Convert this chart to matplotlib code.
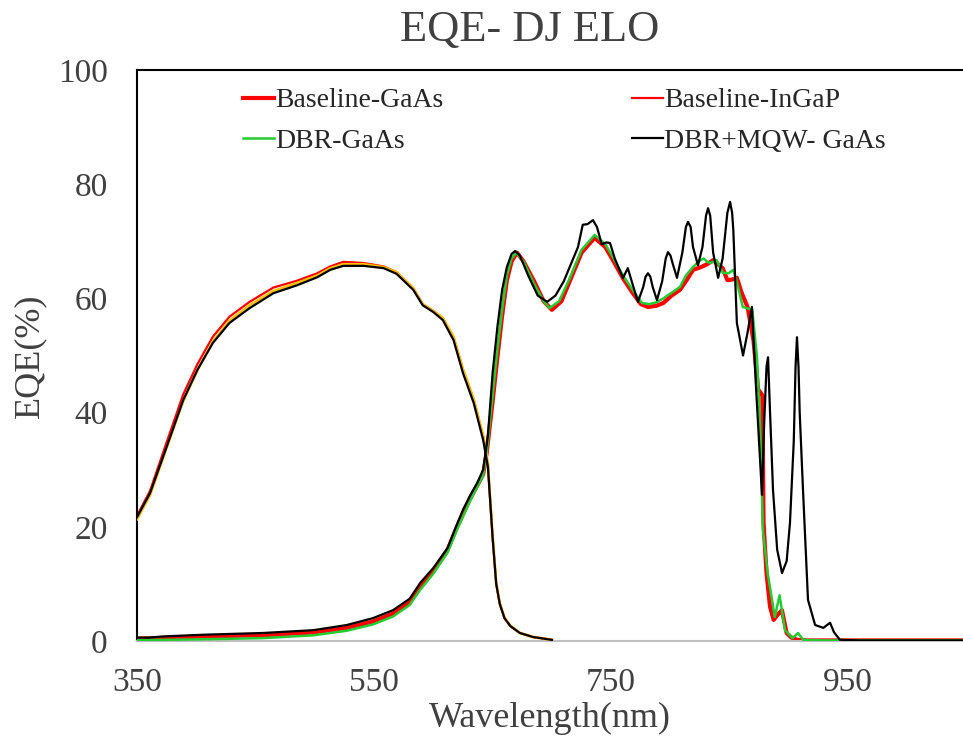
import matplotlib
matplotlib.use("Agg")
import matplotlib.pyplot as plt

# ---------------- data ----------------
wl_ingap = [350, 361, 375, 389, 401, 414, 428, 445, 465, 485, 502, 513, 524, 541, 558,
            569, 583, 591, 600, 608, 617, 625, 634, 642, 646, 650, 653, 656, 660, 665,
            673, 684, 700]
baseline_ingap = [21.9, 26.3, 34.8, 43.2, 48.5, 53.3, 56.8, 59.4, 61.9, 63.1, 64.4, 65.6, 66.4,
                  66.2, 65.6, 64.6, 61.8, 59.0, 57.8, 56.5, 53.2, 47.5, 42.3, 35.8, 30.8, 18.0,
                  10.0, 6.5, 4.0, 2.6, 1.4, 0.7, 0.2]
dbr_ingap = [21.3, 25.5, 33.8, 42.0, 47.4, 52.5, 56.1, 58.8, 61.3, 62.7, 64.0, 65.3, 66.0,
             66.0, 65.5, 64.6, 61.8, 59.0, 57.8, 56.6, 53.3, 47.6, 42.4, 36.0, 31.2, 18.5,
             10.3, 6.7, 4.1, 2.7, 1.4, 0.7, 0.2]
mqw_ingap = [21.7, 25.9, 34.0, 42.2, 47.5, 52.2, 55.7, 58.3, 60.9, 62.3, 63.7, 65.0, 65.7,
             65.7, 65.3, 64.3, 61.5, 58.8, 57.6, 56.2, 52.7, 46.9, 41.7, 35.2, 30.5, 18.0,
             10.0, 6.5, 4.0, 2.6, 1.4, 0.7, 0.2]

wl_base_gaas = [350, 372, 406, 456, 499, 527, 549, 566, 580, 589, 600, 612, 620, 631, 637, 642,
                645, 650, 654, 658, 662, 666, 670.5, 676, 685, 693, 700, 708, 716, 725, 736,
                745, 752, 760, 768, 775, 781, 788, 794, 801, 808, 813, 819, 826, 831, 836, 840,
                844, 848, 852, 856, 860, 865, 870, 874, 876, 877.5, 878.5, 881, 884, 887, 890,
                894, 898, 902, 907, 915, 930, 950, 1000, 1047]
baseline_gaas = [0.4, 0.5, 0.8, 1.0, 1.5, 2.3, 3.4, 4.8, 6.8, 9.5, 12.3, 16.0, 20.0, 25.0, 27.2,
                 29.2, 33, 42, 49.7, 57, 63.2, 66.5, 68, 66.5, 63, 59.5, 58, 59.5, 63.5, 68, 70.6,
                 69, 66.5, 63.5, 61, 59, 58.5, 58.7, 59.2, 60.5, 61.5, 63, 65, 65.5, 66, 66.7, 66,
                 65.3, 63.2, 63.3, 63.6, 61, 58.5, 52.7, 44, 43.5, 43, 20.7, 11.9, 6, 3.7, 4.5,
                 5.4, 1.4, 0.6, 0.2, 0.1, 0.1, 0.1, 0.1, 0.1]

wl_dbr_gaas = [350, 372, 406, 456, 499, 527, 549, 566, 580, 589, 600, 612, 620, 631, 637, 642,
               645, 650, 654, 658, 662, 666, 670, 676, 685, 693, 698, 706, 715, 725, 736, 745,
               752, 760, 768, 776, 782, 788, 794, 801, 808, 813, 819, 824, 828, 831, 834, 839,
               844, 849, 853, 857, 861, 869, 873, 875.5, 878, 882, 888, 892, 896.6, 903, 907.6,
               912, 930, 1047]
dbr_gaas = [0.2, 0.2, 0.3, 0.5, 1.0, 1.8, 2.9, 4.3, 6.3, 9.0, 11.8, 15.5, 19.5, 24.5, 27, 29,
            33, 43, 51, 58, 64, 67, 68, 66.5, 62.5, 59.5, 58.3, 59.5, 63.5, 68.5, 71.1, 69.5, 67,
            64, 61.5, 59.2, 59, 59.3, 60, 61, 62, 64, 65.5, 66.5, 67, 66.4, 66.2, 66.7, 64.5,
            64.4, 65, 62, 58.5, 58, 49.7, 38, 19.4, 11.9, 4.2, 8, 1.9, 0.5, 1.4, 0.2, 0.1, 0.1]

wl_mqw_gaas = [350, 360, 372, 406, 456, 499, 527, 549, 566, 580, 589, 600, 612, 620, 625, 631,
               637, 642, 646, 650, 654, 658, 662, 666, 669, 673, 680, 688, 696, 703, 710, 716,
               722, 726, 730, 734.6, 738, 742, 746, 749, 753, 757, 760, 764, 768, 772.6, 777,
               779, 781, 783, 785, 788.6, 793, 796, 797.9, 800, 802, 805.5, 810, 813, 814.8, 817,
               819, 823.2, 827, 830, 831.7, 833.5, 836, 840.2, 844, 848, 850.3, 852, 853, 856,
               861.2, 865, 868.7, 872, 875.5, 877.2, 879, 881, 882.3, 884, 886.5, 890, 894.1, 898,
               900.8, 904, 905.5, 906.7, 908, 909, 911.8, 916, 922, 929, 934.6, 938, 943, 960,
               1047]
mqw_gaas = [0.6, 0.6, 0.8, 1.1, 1.4, 1.9, 2.8, 4.0, 5.4, 7.4, 10.2, 12.8, 16.3, 20.5, 23, 25.5,
            27.7, 30, 36, 47, 55, 61.5, 65.5, 67.8, 68.3, 67.5, 64, 60.5, 59.4, 60.5, 63, 66, 69,
            72.9, 73, 73.7, 72.5, 69.5, 69.8, 69.7, 67, 65, 63.6, 65.3, 62.5, 59.4, 62,
            63.8, 64.4, 63.8, 62, 59.7, 63, 67, 68.1, 67.5, 66, 63.6, 68, 72.5, 73.4, 72.5,
            69, 65.8, 69, 74.5, 75.8, 74.5, 68, 63.6, 67, 75, 76.9, 75, 72, 55.7,
            50, 54, 58.5, 45, 32, 25.6, 38, 48, 49.7, 40, 26.4, 16, 11.9, 14,
            20.7, 35, 48, 53.2, 48, 40, 26.4, 7.2, 2.8, 2.3, 3.2, 1.5, 0.2, 0.1,
            0.1]

xticks = [350, 550, 750, 950]
yticks = [0, 20, 40, 60, 80, 100]

# ---------------- figure ----------------
W, H = 963, 743
fig = plt.figure(figsize=(W / 100, H / 100), dpi=100)
left_px, right_px, top_px, bot_px = 137, 963, 70, 641
ax = fig.add_axes([left_px / W, 1 - bot_px / H, (right_px - left_px) / W, (bot_px - top_px) / H])

serif = ["Liberation Serif", "DejaVu Serif"]
gray = "#404040"

h1, = ax.plot(wl_base_gaas, baseline_gaas, color="#FF0000", lw=3.0, label="Baseline-GaAs", zorder=2)
h2, = ax.plot(wl_ingap, baseline_ingap, color="#FF0000", lw=1.6, label="Baseline-InGaP", zorder=2)
h3, = ax.plot(wl_dbr_gaas, dbr_gaas, color="#22CC33", lw=1.8, label="DBR-GaAs", zorder=3)
ax.plot(wl_ingap, dbr_ingap, color="#FFC000", lw=1.8, zorder=3)
h4, = ax.plot(wl_mqw_gaas, mqw_gaas, color="#000000", lw=1.6, label="DBR+MQW- GaAs", zorder=4)
ax.plot(wl_ingap, mqw_ingap, color="#000000", lw=1.6, zorder=4)

ax.set_xlim(350, 350 + (right_px - left_px) / 1.1855)
ax.set_ylim(0, 100)
ax.set_xticks(xticks)
ax.set_yticks(yticks)
ax.tick_params(length=0, labelsize=24, colors=gray)
ax.tick_params(axis="y", pad=21)
ax.tick_params(axis="x", pad=19)
for lab in ax.get_xticklabels() + ax.get_yticklabels():
    lab.set_fontfamily(serif)

ax.spines["right"].set_visible(False)
ax.spines["left"].set_color("black")
ax.spines["left"].set_linewidth(1.5)
ax.spines["top"].set_color("black")
ax.spines["top"].set_linewidth(1.5)
ax.spines["bottom"].set_color("#BFBFBF")
ax.spines["bottom"].set_linewidth(1.5)

ax.set_xlabel("Wavelength(nm)", fontsize=26, color=gray, family=serif)
ax.set_ylabel("EQE(%)", fontsize=26, color=gray, family=serif)
ax.xaxis.set_label_coords((550 - left_px) / (right_px - left_px), (bot_px - 702) / (bot_px - top_px))
ax.yaxis.set_label_coords((46 - left_px) / (right_px - left_px), 0.5)
fig.text(530 / W, 1 - 30 / H, "EQE- DJ ELO", fontsize=32, color=gray, family=serif,
         ha="center", va="center")

leg = ax.legend(handles=[h1, h3, h2, h4], ncol=2, loc="upper left",
                bbox_to_anchor=(243 / W, 1 - 88 / H),
                bbox_transform=fig.transFigure, frameon=False,
                prop={"family": serif, "size": 20}, handlelength=1.1, handletextpad=0.05,
                columnspacing=6.8, labelspacing=0.55, borderpad=0, borderaxespad=0)
for t in leg.get_texts():
    t.set_color("#262626")

fig.savefig("out.png", dpi=100)
